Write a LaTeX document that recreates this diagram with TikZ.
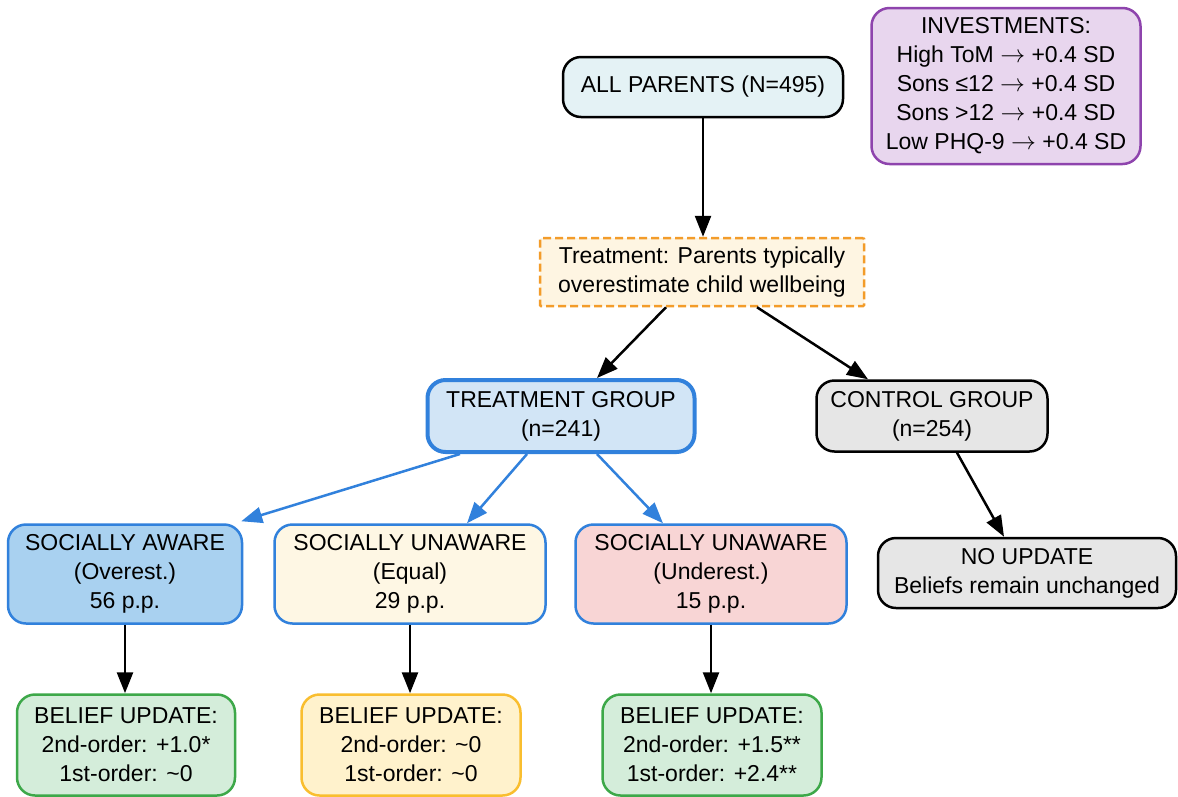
\documentclass[tikz,border=0pt]{standalone}
\usepackage{fontspec}
\setmainfont{Liberation Sans}
\usetikzlibrary{arrows.meta,calc}
\definecolor{allfill}{HTML}{E4F2F5}
\definecolor{purpleb}{HTML}{8E44AD}
\definecolor{purplef}{HTML}{E8D6EE}
\definecolor{orangeb}{HTML}{F39C2A}
\definecolor{orangef}{HTML}{FEF5E2}
\definecolor{blueb}{HTML}{3181DC}
\definecolor{tgfill}{HTML}{D2E5F6}
\definecolor{safill}{HTML}{A9D1F0}
\definecolor{eqfill}{HTML}{FEF7E4}
\definecolor{unfill}{HTML}{F8D5D5}
\definecolor{greyf}{HTML}{E6E6E6}
\definecolor{greenb}{HTML}{3DA849}
\definecolor{greenf}{HTML}{D4EDDA}
\definecolor{goldb}{HTML}{F9BE2F}
\definecolor{goldf}{HTML}{FFF2CC}
\newcommand{\myarr}{\ensuremath{\rightarrow}}
\tikzset{
  box/.style={draw, rounded corners=18pt, align=center, inner sep=0pt,
    font=\fontsize{23}{29}\selectfont, line width=2.5pt},
  blk/.style={draw=black, line width=2.5pt, -{Triangle[length=21pt,width=16pt]}},
  blu/.style={draw=blueb, line width=2.5pt, -{Triangle[length=21pt,width=16pt]}, color=blueb},
}
\begin{document}
\begin{tikzpicture}[x=1pt,y=-1pt]
\useasboundingbox[fill=white] (0,0) rectangle (1178,796);
\node[box, fill=allfill, minimum width=280pt, minimum height=60pt] (all) at (703,87) {ALL PARENTS (N=495)};
\node[box, draw=purpleb, fill=purplef, minimum width=269pt, minimum height=156pt] (inv) at (1006,86)
  {INVESTMENTS:\\High ToM \myarr{} +0.4 SD\\Sons ≤12 \myarr{} +0.4 SD\\Sons >12 \myarr{} +0.4 SD\\Low PHQ-9 \myarr{} +0.4 SD};
\node[box, rounded corners=1pt, draw=orangeb, fill=orangef, dash pattern=on 8pt off 4pt, minimum width=324pt, minimum height=68pt] (treat) at (702,272)
  {Treatment: Parents typically\\overestimate child wellbeing};
\node[box, draw=blueb, line width=4pt, fill=tgfill, minimum width=267pt, minimum height=72pt] (tg) at (561,416) {TREATMENT GROUP\\(n=241)};
\node[box, fill=greyf, minimum width=231pt, minimum height=71pt] (cg) at (932,416) {CONTROL GROUP\\(n=254)};
\node[box, draw=blueb, fill=safill, minimum width=234pt, minimum height=99pt] (sa) at (125,574) {SOCIALLY AWARE\\(Overest.)\\56 p.p.};
\node[box, draw=blueb, fill=eqfill, minimum width=271pt, minimum height=99pt] (se) at (410,574) {SOCIALLY UNAWARE\\(Equal)\\29 p.p.};
\node[box, draw=blueb, fill=unfill, minimum width=271pt, minimum height=99pt] (su) at (711,574) {SOCIALLY UNAWARE\\(Underest.)\\15 p.p.};
\node[box, fill=greyf, minimum width=298pt, minimum height=70pt] (no) at (1027,573) {NO UPDATE\\Beliefs remain unchanged};
\node[box, draw=greenb, fill=greenf, minimum width=218pt, minimum height=101pt] (b1) at (126,745) {BELIEF UPDATE:\\2nd-order: +1.0*\\1st-order: \textasciitilde0};
\node[box, draw=goldb, fill=goldf, minimum width=219pt, minimum height=101pt] (b2) at (411,745) {BELIEF UPDATE:\\2nd-order: \textasciitilde0\\1st-order: \textasciitilde0};
\node[box, draw=greenb, fill=greenf, minimum width=219pt, minimum height=101pt] (b3) at (712,745) {BELIEF UPDATE:\\2nd-order: +1.5**\\1st-order: +2.4**};
\draw[blk] (all.south) -- (all.south |- treat.north);
\draw[blk] ([xshift=-36pt]treat.south) -- ([xshift=36pt]tg.north);
\draw[blk] ([xshift=55pt]treat.south) -- ([xshift=-64pt]cg.north);
\draw[blu] ([xshift=-101pt]tg.south) -- ([xshift=-2pt,yshift=2pt]sa.north east);
\draw[blu] ([xshift=-34pt]tg.south) -- ([xshift=57pt]se.north);
\draw[blu] ([xshift=36pt]tg.south) -- ([xshift=-48pt]su.north);
\draw[blk] ([xshift=25pt]cg.south) -- ([xshift=-23pt]no.north);
\draw[blk] (sa.south) -- (sa.south |- b1.north);
\draw[blk] (se.south) -- (se.south |- b2.north);
\draw[blk] (su.south) -- (su.south |- b3.north);
\end{tikzpicture}
\end{document}
